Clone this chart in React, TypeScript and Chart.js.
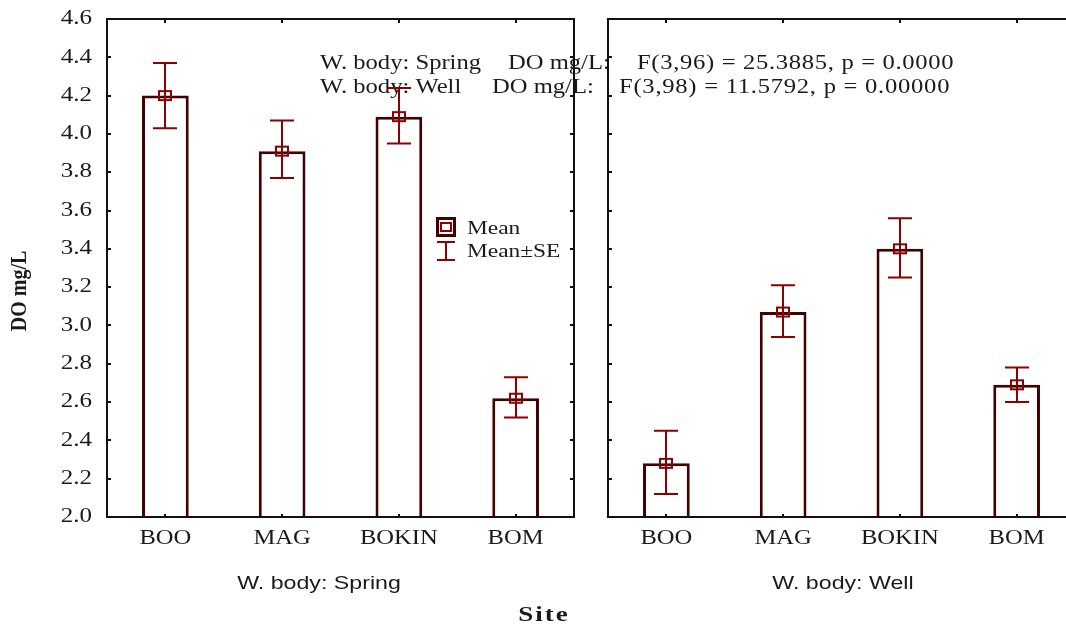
import React, { useEffect, useRef } from 'react';
import { Chart, registerables } from 'chart.js';

Chart.register(...registerables);

// ---------- data ----------
const sites = ['BOO', 'MAG', 'BOKIN', 'BOM'];
const springMean = [4.2, 3.91, 4.09, 2.62];
const springUpper = [4.37, 4.07, 4.24, 2.73];
const springLower = [4.03, 3.77, 3.95, 2.52];
const wellMean = [2.28, 3.07, 3.4, 2.69];
const wellUpper = [2.45, 3.21, 3.56, 2.78];
const wellLower = [2.12, 2.94, 3.25, 2.6];
const yMin = 2.0;
const yMax = 4.6;
const yStep = 0.2;
const panelTitles = ['W. body: Spring', 'W. body: Well'];
const statLines = [
  ['W. body: Spring', 'DO mg/L:', 'F(3,96) = 25.3885, p = 0.0000'],
  ['W. body: Well', 'DO mg/L:', 'F(3,98) = 11.5792, p = 0.00000'],
];
const legendLabels = ['Mean', 'Mean\u00B1SE'];
const xTitle = 'Site';
const yTitle = 'DO mg/L';

// ---------- style ----------
const SERIF = '"Liberation Serif", "Times New Roman", serif';
const SANS = '"Liberation Sans", Arial, sans-serif';
const BAR_BORDER = '#420000';
const ERR = '#8b0000';
const AXIS = '#111111';
const TEXT = '#1a1a1a';
const SX = 1.23;

function drawText(
  ctx: CanvasRenderingContext2D,
  text: string,
  x: number,
  y: number,
  font: string,
  align: 'left' | 'center' | 'right',
  sx = SX,
  ls = 0,
  color = TEXT
) {
  ctx.save();
  ctx.font = font;
  (ctx as any).letterSpacing = ls + 'px';
  ctx.fillStyle = color;
  ctx.textBaseline = 'middle';
  ctx.textAlign = 'left';
  const w = (ctx.measureText(text).width - ls) * sx;
  let x0 = x;
  if (align === 'center') x0 = x - w / 2;
  else if (align === 'right') x0 = x - w;
  ctx.translate(x0, y);
  ctx.scale(sx, 1);
  ctx.fillText(text, 0, 0);
  ctx.restore();
}

type PanelOpts = {
  upper: number[];
  lower: number[];
  means: number[];
  left: boolean;
  subtitleX: number;
  subtitle: string;
};

function panelPlugin(o: PanelOpts) {
  return {
    id: 'panel' + (o.left ? 'L' : 'R'),
    beforeDatasetsDraw(chart: any) {
      if (!o.left) return;
      const ctx: CanvasRenderingContext2D = chart.ctx;
      const f = '20px ' + SERIF;
      drawText(ctx, statLines[0][0], 320, 64, f, 'left');
      drawText(ctx, statLines[0][1], 508, 64, f, 'left');
      drawText(ctx, statLines[0][2], 637, 64, f, 'left', SX, 0.55);
      drawText(ctx, statLines[1][0], 320, 88, f, 'left');
      drawText(ctx, statLines[1][1], 492, 88, f, 'left');
      drawText(ctx, statLines[1][2], 619, 88, f, 'left', SX, 0.6);
    },
    afterDatasetsDraw(chart: any) {
      const ctx: CanvasRenderingContext2D = chart.ctx;
      const a = chart.chartArea;
      const x = chart.scales.x;
      const y = chart.scales.y;
      ctx.save();
      // frame
      ctx.strokeStyle = AXIS;
      ctx.lineWidth = 2;
      ctx.strokeRect(a.left, a.top, a.right - a.left, a.bottom - a.top);
      // y ticks (inward)
      y.ticks.forEach((t: any) => {
        const py = Math.round(y.getPixelForValue(t.value));
        ctx.beginPath();
        ctx.moveTo(a.left, py);
        ctx.lineTo(a.left + 4, py);
        ctx.moveTo(a.right, py);
        ctx.lineTo(a.right - 4, py);
        ctx.stroke();
      });
      // x ticks (inward top and bottom)
      sites.forEach((_, i) => {
        const px = Math.round(x.getPixelForValue(i));
        ctx.beginPath();
        ctx.moveTo(px, a.top);
        ctx.lineTo(px, a.top + 4);
        ctx.moveTo(px, a.bottom);
        ctx.lineTo(px, a.bottom - 3);
        ctx.stroke();
      });
      // error bars + mean markers
      ctx.strokeStyle = ERR;
      ctx.lineWidth = 2;
      o.means.forEach((m, i) => {
        const px = Math.round(x.getPixelForValue(i));
        const pu = y.getPixelForValue(o.upper[i]);
        const pl = y.getPixelForValue(o.lower[i]);
        const pm = y.getPixelForValue(m);
        ctx.beginPath();
        ctx.moveTo(px, pu);
        ctx.lineTo(px, pl);
        ctx.moveTo(px - 12, pu);
        ctx.lineTo(px + 12, pu);
        ctx.moveTo(px - 12, pl);
        ctx.lineTo(px + 12, pl);
        ctx.stroke();
        ctx.strokeRect(px - 6, pm - 4.5, 12, 9);
      });
      ctx.restore();

      // tick labels
      if (o.left) {
        y.ticks.forEach((t: any) => {
          const py = y.getPixelForValue(t.value);
          drawText(ctx, Number(t.value).toFixed(1), a.left - 15, py, '20px ' + SERIF, 'right', 1.25);
        });
      }
      sites.forEach((s, i) => {
        const px = x.getPixelForValue(i);
        drawText(ctx, s, px, a.bottom + 22, '20px ' + SERIF, 'center', 1.23);
      });
      // subtitle
      drawText(ctx, o.subtitle, o.subtitleX, 584, '19px ' + SANS, 'center', 1.22);

      if (o.left) {
        // legend
        ctx.save();
        ctx.strokeStyle = BAR_BORDER;
        ctx.lineWidth = 3;
        ctx.strokeRect(437.5, 218.5, 17, 17);
        ctx.strokeStyle = ERR;
        ctx.lineWidth = 2;
        ctx.strokeRect(441, 223, 10, 8);
        ctx.beginPath();
        ctx.moveTo(446, 242);
        ctx.lineTo(446, 260);
        ctx.moveTo(437, 242);
        ctx.lineTo(455, 242);
        ctx.moveTo(437, 260);
        ctx.lineTo(455, 260);
        ctx.stroke();
        ctx.restore();
        drawText(ctx, legendLabels[0], 467, 229, '19px ' + SERIF, 'left');
        drawText(ctx, legendLabels[1], 467, 252, '19px ' + SERIF, 'left');
        // axis titles
        drawText(ctx, xTitle, 543, 616, 'bold 20px ' + SERIF, 'center', 1.35, 1.5);
        ctx.save();
        ctx.translate(20, 291);
        ctx.rotate(-Math.PI / 2);
        ctx.font = 'bold 20px ' + SERIF;
        ctx.fillStyle = TEXT;
        ctx.textAlign = 'center';
        ctx.textBaseline = 'middle';
        ctx.scale(1, 1.15);
        ctx.fillText(yTitle, 0, 0);
        ctx.restore();
      }
    },
  };
}

function makeConfig(means: number[], upper: number[], lower: number[], left: boolean): any {
  return {
    type: 'bar',
    data: {
      labels: sites,
      datasets: [
        {
          data: means,
          backgroundColor: '#ffffff',
          borderColor: BAR_BORDER,
          borderWidth: 3,
          borderSkipped: false,
          barPercentage: 0.4,
          categoryPercentage: 1,
        },
      ],
    },
    options: {
      responsive: false,
      animation: false,
      devicePixelRatio: 1,
      layout: {
        padding: left
          ? { left: 0, right: 492, top: 19, bottom: 0 }
          : { left: 608, right: 25, top: 19, bottom: 0 },
      },
      plugins: { legend: { display: false }, tooltip: { enabled: false }, title: { display: false } },
      scales: {
        x: {
          type: 'category',
          grid: { display: false, drawTicks: false },
          border: { display: false },
          ticks: { display: false },
          afterFit: (s: any) => {
            s.height = 108;
          },
        },
        y: {
          min: yMin,
          max: yMax,
          grid: { display: false, drawTicks: false },
          border: { display: false },
          ticks: { display: false, stepSize: yStep },
          afterFit: (s: any) => {
            s.width = left ? 107 : 0;
          },
        },
      },
    },
    plugins: [
      panelPlugin({
        means,
        upper,
        lower,
        left,
        subtitle: left ? panelTitles[0] : panelTitles[1],
        subtitleX: left ? 319 : 843,
      }),
    ],
  };
}

export default function App() {
  const leftRef = useRef<HTMLCanvasElement>(null);
  const rightRef = useRef<HTMLCanvasElement>(null);
  useEffect(() => {
    const c1 = new Chart(leftRef.current!, makeConfig(springMean, springUpper, springLower, true));
    const c2 = new Chart(rightRef.current!, makeConfig(wellMean, wellUpper, wellLower, false));
    return () => {
      c1.destroy();
      c2.destroy();
    };
  }, []);
  return (
    <div
      style={{
        position: 'fixed',
        left: 0,
        top: 0,
        width: 1066,
        height: 625,
        overflow: 'hidden',
        background: '#ffffff',
      }}
    >
      <canvas ref={leftRef} width={1066} height={625} style={{ position: 'absolute', left: 0, top: 0 }} />
      <canvas ref={rightRef} width={1100} height={625} style={{ position: 'absolute', left: 0, top: 0 }} />
    </div>
  );
}
